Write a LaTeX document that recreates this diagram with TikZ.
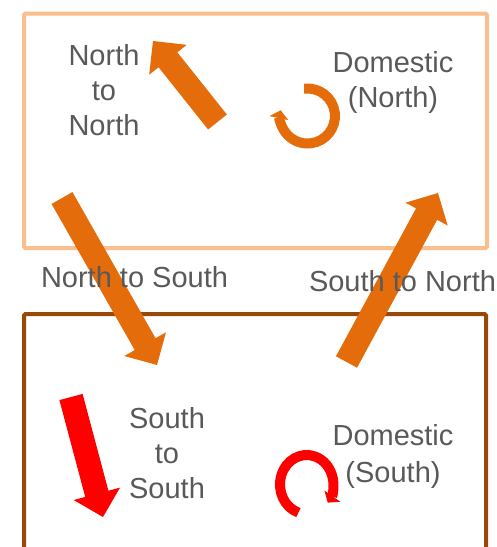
\documentclass[tikz,border=0pt]{standalone}
\usepackage{fontspec}
\setmainfont{Liberation Sans}
\usetikzlibrary{calc,arrows.meta}
\definecolor{orng}{HTML}{E46C0A}
\definecolor{lightorng}{HTML}{FBBF8E}
\definecolor{brwn}{HTML}{984807}
\definecolor{txtgray}{HTML}{595959}
\definecolor{rd}{HTML}{FF0000}
\newcommand\blockarr[3]{% #1 tail, #2 tip, #3 colour
  \coordinate (#1-b) at ($(#2)!24pt!(#1)$);
  \fill[#3] ($(#1)!12pt!90:(#2)$) -- ($(#1-b)!12pt!90:(#2)$) -- ($(#1-b)!24pt!90:(#2)$) -- (#2)
    -- ($(#1-b)!24pt!-90:(#2)$) -- ($(#1-b)!12pt!-90:(#2)$) -- ($(#1)!12pt!-90:(#2)$) -- cycle;
}
\begin{document}
\begin{tikzpicture}[x=1pt,y=-1pt,
  txt/.style={font=\fontsize{29}{34}\selectfont, text=txtgray, anchor=base, inner sep=0pt},
  boxline/.style={line width=4pt, rounded corners=1.5pt},
  loop/.style={line width=10pt, -{Triangle[width=19pt,length=8pt]}}]
\useasboundingbox (0,0) rectangle (497,547);
% boxes
\draw[boxline, lightorng] (24,13.5) rectangle (487,248);
\draw[boxline, brwn] (24,560) -- (24,314) -- (486,314) -- (486,560);
% block arrows
\coordinate (nnT) at (217.5,122); \coordinate (nnP) at (153,41);
\coordinate (nsT) at (62,198);    \coordinate (nsP) at (157,365);
\coordinate (snT) at (346.5,362); \coordinate (snP) at (438,193);
\coordinate (ssT) at (71,397);    \coordinate (ssP) at (103,517);
\blockarr{nnT}{nnP}{orng}
\blockarr{nsT}{nsP}{orng}
\blockarr{snT}{snP}{orng}
\blockarr{ssT}{ssP}{rd}
% circular arrows
\coordinate (dnC) at (307.5,116);
\coordinate (dsC) at (306.7,484.5);
\draw[loop, orng] ($(dnC)+(-97:27.5)$) arc[start angle=-97, end angle=192, radius=27.5];
\draw[loop, rd] ($(dsC)+({26.7*cos(-252)},{29.5*sin(-252)})$) arc[start angle=-252, end angle=38, x radius=26.7, y radius=29.5];
% texts
\node[txt] (nn1) at (104,65) {North};
\node[txt] (nn2) at (104,100) {to};
\node[txt] (nn3) at (104,135) {North};
\node[txt] (dn1) at (393,72) {Domestic};
\node[txt] (dn2) at (393,107) {(North)};
\node[txt] (ns) at (134.5,287) {North to South};
\node[txt] (sn) at (402.5,291) {South to North};
\node[txt] (ss1) at (167,428) {South};
\node[txt] (ss2) at (167,463) {to};
\node[txt] (ss3) at (167,498) {South};
\node[txt] (ds1) at (393,445) {Domestic};
\node[txt] (ds2) at (393,482) {(South)};
\end{tikzpicture}
\end{document}
